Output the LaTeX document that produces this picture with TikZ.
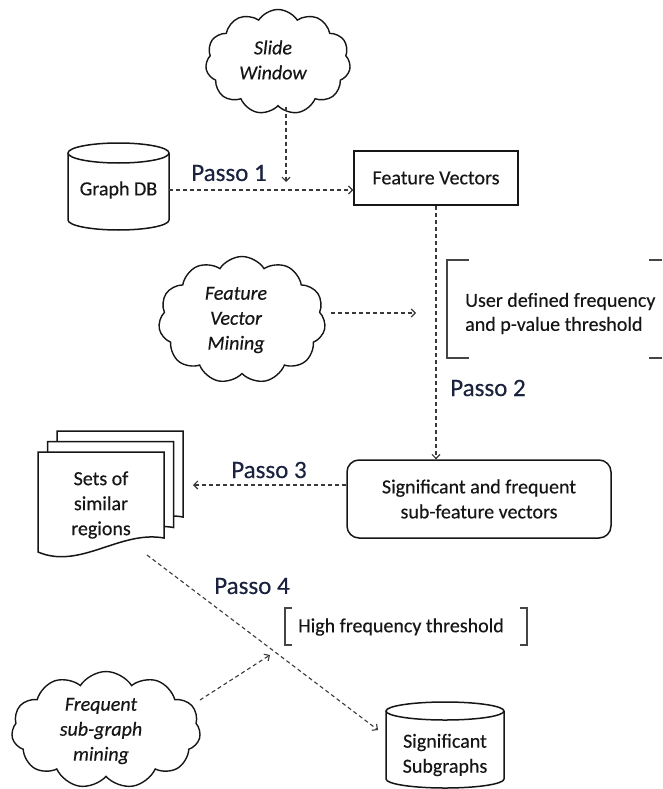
\documentclass[tikz,border=0pt]{standalone}
\usepackage{fontspec}
\setmainfont{Carlito}[FakeBold=0.35]
\usetikzlibrary{shapes.symbols,arrows.meta,calc}
\definecolor{passo}{RGB}{26,34,62}
\definecolor{ink}{RGB}{22,22,22}
\begin{document}
\begin{tikzpicture}[x=1pt,y=-1pt,
  every node/.style={font=\fontsize{20pt}{24pt}\selectfont, text=ink},
  boxline/.style={draw=ink, line width=1.5pt},
  brk/.style={draw=ink!80, line width=1.2pt},
  flow/.style={draw=ink!85, line width=1.1pt, dash pattern=on 4pt off 3pt,
               -{Straight Barb[length=4pt,width=8pt]}},
  passo/.style={font=\fontsize{25pt}{30pt}\selectfont, text=passo},
  cloudbox/.style={cloud, cloud puffs=11, cloud puff arc=115, draw=ink,
                   line width=1.4pt, inner sep=0pt},
  cloudtext/.style={font=\itshape\fontsize{20pt}{25pt}\selectfont, align=center},
  plain/.style={inner sep=0pt, align=center},
]
\useasboundingbox (0,0) rectangle (662,789);

% ---- Slide Window cloud
\node[cloudbox, minimum width=145pt, minimum height=105pt] (sw) at (278,62) {};
\node[cloudtext] (swt) at (273,60) {Slide\\Window};

% ---- Graph DB cylinder
\draw[boxline] (68,153) -- (68,220) arc (180:360:50.5pt and 10pt) -- (169,153);
\draw[boxline] (118.5,153) ellipse [x radius=50.5pt, y radius=10pt];
\node[plain, minimum width=101pt] (gdb) at (118.5,190) {Graph DB};

% ---- Feature Vectors box
\node[boxline, minimum width=164pt, minimum height=54pt, inner sep=0pt] (fv) at (436,178) {Feature Vectors};

% ---- Feature Vector Mining cloud
\node[cloudbox, minimum width=167pt, minimum height=127pt] (fvm) at (242,320) {};
\node[cloudtext] (fvmt) at (236,320) {Feature\\Vector\\Mining};

% ---- threshold bracket (upper)
\draw[brk] (469,260) -- (447,260) -- (447,358) -- (469,358);
\draw[brk] (649,260) -- (662,260);
\draw[brk] (649,358) -- (662,358);
\node[anchor=west, align=left, inner sep=0pt] (thr) at (465,313.5) {User defined frequency\\and p-value threshold};

% ---- Significant and frequent box
\node[boxline, rounded corners=12pt, minimum width=264pt, minimum height=78pt,
      inner sep=0pt, align=center, font=\fontsize{20pt}{25pt}\selectfont] (sig) at (479,499)
      {Significant and frequent\\sub-feature vectors};

% ---- stack of documents
\foreach \dx/\dy in {19/-21, 9.5/-10.5, 0/0} {
  \draw[boxline, fill=white, shift={(\dx,\dy)}]
    (38,452) -- (164,452) -- (164,538)
    .. controls (120,530) and (80,570) .. (38,552) -- cycle;
}
\node[plain, font=\fontsize{20pt}{25pt}\selectfont] (sets) at (101,505) {Sets of\\similar\\regions};

% ---- High frequency bracket
\draw[brk] (292,608) -- (285,608) -- (285,645) -- (292,645);
\draw[brk] (520,608) -- (527,608) -- (527,645) -- (520,645);
\node[inner sep=0pt] (hft) at (401,627) {High frequency threshold};

% ---- Frequent sub-graph mining cloud
\node[cloudbox, minimum width=189pt, minimum height=117pt] (fq) at (106,730) {};
\node[cloudtext] (fqt) at (101,731) {Frequent\\sub-graph\\mining};

% ---- Significant Subgraphs cylinder
\draw[boxline] (386,711) -- (386,779) arc (180:360:59pt and 9pt) -- (504,711);
\draw[boxline] (445,711) ellipse [x radius=59pt, y radius=9pt];
\node[plain, font=\fontsize{20pt}{25pt}\selectfont] (ssg) at (445,755) {Significant\\Subgraphs};

% ---- step labels
\node[passo] (p1) at (229,173) {Passo 1};
\node[passo] (p2) at (488,388) {Passo 2};
\node[passo] (p3) at (269,470) {Passo 3};
\node[passo] (p4) at (252,586) {Passo 4};

% ---- free ends of connectors
\coordinate (swEnd) at (286,182);
\coordinate (fvmEnd) at (416,313);
\coordinate (setsEnd) at (193,485);
\coordinate (fqEnd) at (270,655);

% ---- connectors
\draw[flow] (sw.south -| swEnd) -- (swEnd);
\draw[flow] (gdb.east) -- (gdb.east -| fv.west);
\draw[flow] (fv.south) -- (fv.south |- sig.north);
\draw[flow, shorten <=6pt] (fvm.east |- fvmEnd) -- (fvmEnd);
\draw[flow] ([yshift=14pt]sig.west) -- (setsEnd);
\draw[flow] ([shift={(46pt,-50pt)}]sets.center) -- ([shift={(-67pt,25pt)}]ssg.center);
\draw[flow] ([shift={(94pt,30pt)}]fq.center) -- (fqEnd);
\end{tikzpicture}
\end{document}
